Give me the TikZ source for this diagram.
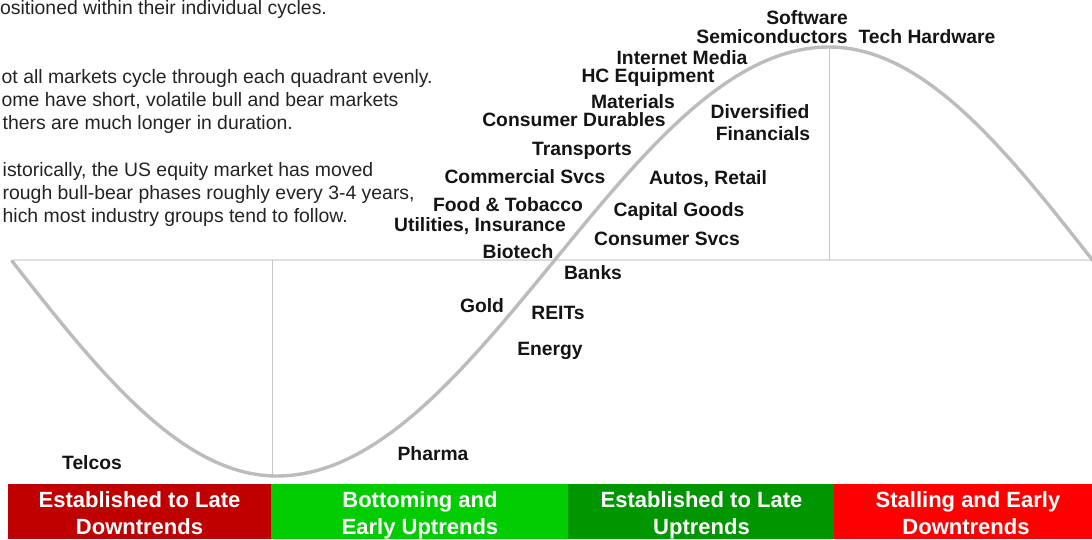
\documentclass[tikz,border=0pt]{standalone}
\usepackage{fontspec}
\setmainfont{Liberation Sans}
\definecolor{curvegray}{RGB}{188,188,188}
\definecolor{axisgray}{RGB}{222,222,222}
\definecolor{lategreen}{RGB}{0,150,0}
\definecolor{earlygreen}{RGB}{0,204,0}
\definecolor{latered}{RGB}{192,0,0}
\definecolor{earlyred}{RGB}{255,0,0}
\definecolor{ink}{RGB}{20,20,20}
\definecolor{bodyink}{RGB}{35,35,35}
\begin{document}
\begin{tikzpicture}[x=1pt,y=-1pt,
  lbl/.style={font=\fontsize{19.3}{22}\selectfont\bfseries, text=ink, inner sep=0pt, anchor=base},
  body/.style={font=\fontsize{19.4}{23}\selectfont, text=bodyink, inner sep=0pt, anchor=base west},
  bandtxt/.style={font=\fontsize{22}{27}\selectfont\bfseries, text=white, inner sep=0pt, anchor=base},
  cycle line/.style={draw=curvegray, line width=3.4pt, line cap=round},
  axis line/.style={draw=axisgray, line width=1.6pt},
  divider/.style={draw=axisgray!90!black, line width=1pt},
]
\path[use as bounding box] (0,0) rectangle (1092,539);
\clip (0,0) rectangle (1092,539);

% explanatory notes (left column)
\node[body] (n0) at (0,14) {ositioned within their individual cycles.};
\node[body] (n1) at (1.5,83) {ot all markets cycle through each quadrant evenly.};
\node[body] (n2) at (1.5,106) {ome have short, volatile bull and bear markets};
\node[body] (n3) at (2.5,129) {thers are much longer in duration.};
\node[body] (n4) at (2.5,176) {istorically, the US equity market has moved};
\node[body] (n5) at (2.5,199) {rough bull-bear phases roughly every 3-4 years,};
\node[body] (n6) at (2.5,222) {hich most industry groups tend to follow.};

% axis and quadrant dividers
\draw[axis line] (14,260) -- (1092,260);
\draw[divider] (272,260) -- (272,478);
\draw[divider] (829,48) -- (829,260);

% the market cycle
\draw[cycle line] (12,261) sin (277,476) cos (554,261) sin (829,47) cos (1094,262);

% phase bands
\fill[latered]   (8,484)   rectangle (271,539);
\fill[earlygreen](271,484) rectangle (568,539);
\fill[lategreen] (568,484) rectangle (834,539);
\fill[earlyred]  (834,484) rectangle (1092,539);

\node[bandtxt] (b1a) at (139.5,507) {Established to Late};
\node[bandtxt] (b1b) at (139.5,534) {Downtrends};
\node[bandtxt] (b2a) at (420,507) {Bottoming and};
\node[bandtxt] (b2b) at (420,534) {Early Uptrends};
\node[bandtxt] (b3a) at (701.5,507) {Established to Late};
\node[bandtxt] (b3b) at (701.5,534) {Uptrends};
\node[bandtxt] (b4a) at (968,507) {Stalling and Early};
\node[bandtxt] (b4b) at (966,534) {Downtrends};

% industry groups along the cycle
\node[lbl] (software) at (807,24) {Software};
\node[lbl] (semis)    at (772,43) {Semiconductors};
\node[lbl] (techhw)   at (927,43) {Tech Hardware};
\node[lbl] (media)    at (682,64) {Internet Media};
\node[lbl] (hceq)     at (648,82) {HC Equipment};
\node[lbl] (materials) at (633,108) {Materials};
\node[lbl] (durables) at (574,126) {Consumer Durables};
\node[lbl] (divfin1)  at (760,118) {Diversified};
\node[lbl] (divfin2)  at (763,140) {Financials};
\node[lbl] (transports) at (582,155) {Transports};
\node[lbl] (commsvcs) at (525,183) {Commercial Svcs};
\node[lbl] (autos)    at (708,184) {Autos, Retail};
\node[lbl] (food)     at (508,211) {Food \& Tobacco};
\node[lbl] (capgoods) at (679,216) {Capital Goods};
\node[lbl] (utilities) at (480,231) {Utilities, Insurance};
\node[lbl] (consvcs)  at (667,245) {Consumer Svcs};
\node[lbl] (biotech)  at (518,258) {Biotech};
\node[lbl] (banks)    at (593,279) {Banks};
\node[lbl] (gold)     at (482,312) {Gold};
\node[lbl] (reits)    at (558,319) {REITs};
\node[lbl] (energy)   at (550,355) {Energy};
\node[lbl] (pharma)   at (433,460) {Pharma};
\node[lbl] (telcos)   at (92,469) {Telcos};
\end{tikzpicture}
\end{document}
